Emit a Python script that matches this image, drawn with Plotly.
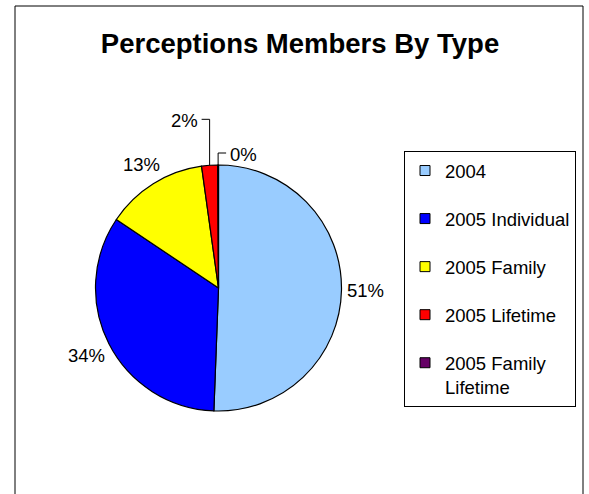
import math
import plotly.graph_objects as go

# ---- data ----
categories = ["2004", "2005 Individual", "2005 Family", "2005 Lifetime", "2005 Family Lifetime"]
values = [50.6, 33.8, 13.4, 2.1, 0.1]
colors = ["#99CCFF", "#0000FF", "#FFFF00", "#FF0000", "#660066"]
legend_names = ["2004", "2005 Individual", "2005 Family", "2005 Lifetime", "2005 Family<br>Lifetime"]
title_text = "Perceptions Members By Type"

# ---- layout constants ----
W, H = 589, 494
FONT = "Liberation Sans, Arial, sans-serif"
FS = 18.5
CX, CY, R = 218.5, 288.0, 123.0   # pie centre / radius in pixels


def px(x):
    return x / W


def py(y):
    return 1 - y / H


fig = go.Figure()
fig.add_trace(go.Pie(
    labels=categories,
    values=values,
    sort=False,
    direction="clockwise",
    rotation=0,
    marker=dict(colors=colors, line=dict(color="black", width=1.2)),
    textinfo="none",
    domain=dict(x=[px(CX - R), px(CX + R)], y=[py(CY + R), py(CY - R)]),
    showlegend=False,
))

# legend entries (one group each so they can be spaced like the original)
for name, c in zip(legend_names, colors):
    fig.add_trace(go.Scatter(
        x=[None], y=[None], mode="markers", name=name, legendgroup=name,
        marker=dict(symbol="square", size=10, color=c, line=dict(color="black", width=1)),
        hoverinfo="skip",
    ))

# percentage labels placed outside the slices (Excel "outside end" style)
shapes = []
annotations = []
total = sum(values)
leader_style = {3: dict(rise=46, stub=-8), 4: dict(rise=12, stub=8)}
GAP = 5.0
cum = 0.0
for i, v in enumerate(values):
    mid = (cum + v / 2) / total * 2 * math.pi
    cum += v
    pct = round(v / total * 100)
    label = f"{pct}%"
    dx, dy = math.sin(mid), -math.cos(mid)
    if i in leader_style:
        st = leader_style[i]
        x0 = CX + R * dx
        y0 = CY + R * dy
        y1 = y0 - st["rise"]
        x2 = x0 + st["stub"]
        shapes.append(dict(
            type="path", xref="paper", yref="paper",
            path=f"M {px(x0)},{py(y0)} L {px(x0)},{py(y1)} L {px(x2)},{py(y1)}",
            line=dict(color="black", width=1),
        ))
        right = st["stub"] > 0
        annotations.append(dict(
            xref="paper", yref="paper",
            x=px(x2 + (2 if right else -2)), y=py(y1 + 1),
            xanchor="left" if right else "right", yanchor="middle",
            text=label, showarrow=False,
            font=dict(family=FONT, size=FS, color="black"),
        ))
    else:
        hw = (0.556 * (len(label) - 1) + 0.889) * FS / 2
        hh = 0.5 * FS
        dist = R + GAP + hw * abs(dx) + hh * abs(dy)
        annotations.append(dict(
            xref="paper", yref="paper",
            x=px(CX + dist * dx), y=py(CY + dist * dy),
            xanchor="center", yanchor="middle",
            text=label, showarrow=False,
            font=dict(family=FONT, size=FS, color="black"),
        ))

# chart-area frame
shapes.append(dict(
    type="rect", xref="paper", yref="paper",
    x0=px(15), x1=px(583), y0=-0.05, y1=py(6),
    line=dict(color="black", width=1), fillcolor="rgba(0,0,0,0)",
))

fig.update_layout(
    width=W, height=H,
    margin=dict(l=0, r=0, t=0, b=0),
    paper_bgcolor="white", plot_bgcolor="white",
    font=dict(family=FONT, size=FS, color="black"),
    title=dict(
        text=f"<b>{title_text}</b>",
        x=px(300), xanchor="center", y=py(43), yanchor="middle",
        font=dict(family=FONT, size=27.5, color="black"),
    ),
    xaxis=dict(visible=False), yaxis=dict(visible=False),
    showlegend=True,
    legend=dict(
        x=px(404), xanchor="left", y=py(151), yanchor="top",
        bordercolor="black", borderwidth=1, bgcolor="white",
        tracegroupgap=21, valign="top",
        font=dict(family=FONT, size=FS, color="black"),
    ),
    shapes=shapes,
    annotations=annotations,
)

fig.write_html(
    "out.html",
    config={"displayModeBar": False},
    post_script="document.body.style.margin='0px';",
)
